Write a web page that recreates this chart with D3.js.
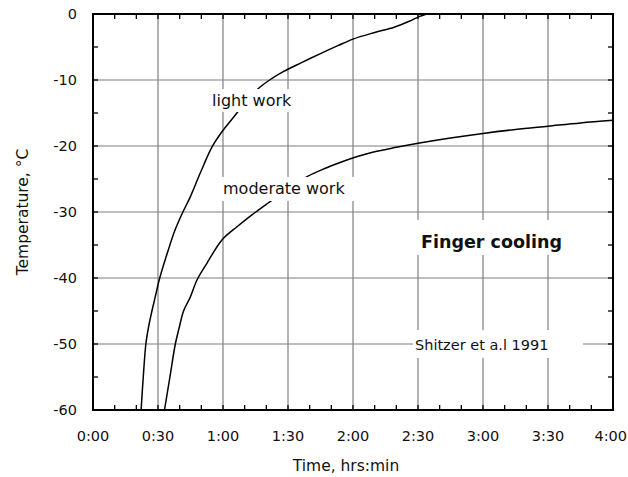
<!doctype html>
<html lang="en">
<head>
<meta charset="utf-8">
<title>Finger cooling</title>
<script src="https://d3js.org/d3.v7.min.js"></script>
<style>
  body { margin: 0; background: #fff; }
  text { font-family: "DejaVu Sans", sans-serif; fill: #111; }
  .grid line { stroke: #7f7f7f; stroke-width: 1.2; }
  .tick-lbl { font-size: 14.5px; }
  .curve { fill: none; stroke: #000; stroke-width: 1.5; }
</style>
</head>
<body>
<svg id="chart" width="628" height="477"></svg>
<script>
// ticks (minutes / degC)
const xMajor = [0, 30, 60, 90, 120, 150, 180, 210, 240];
const xMinor = [10, 20, 40, 50, 70, 80, 100, 110, 130, 140, 160, 170, 190, 200, 220, 230];
const yMajor = [0, -10, -20, -30, -40, -50, -60];
const yMinor = [-5, -15, -25, -35, -45, -55];

// light work: time (min) and temp (C)
const lightT = [22.2, 23.2, 24.4, 25.6, 27.2, 28.7, 30.8, 34.7, 37.9, 41.2, 44.9, 49.5, 55, 59.6, 65.7, 71, 77, 81.5, 88, 96, 105, 113, 120, 130, 139, 146, 150.5, 154];
const lightY = [-60, -55, -50, -47.5, -45, -42.9, -40, -35.8, -32.7, -30.2, -27.7, -24.1, -20.1, -17.8, -15.3, -13, -11.1, -10, -8.7, -7.4, -6, -4.8, -3.8, -2.8, -2.0, -1.1, -0.4, 0];

// moderate work
const modT = [33, 35.5, 38, 39.8, 41.8, 44.9, 48, 52.7, 59.6, 66.6, 73.5, 81, 87, 93, 99, 107, 114, 122, 129.5, 140, 150, 165, 180, 195, 210, 225, 240];
const modY = [-60, -55, -50, -47.5, -45, -42.9, -40.3, -37.7, -34.2, -32.2, -30.4, -28.6, -27.2, -25.9, -24.6, -23.4, -22.5, -21.6, -20.9, -20.2, -19.6, -18.8, -18.1, -17.5, -17, -16.5, -16.1];

const svg = d3.select("#chart");
const pL = 93, pR = 613, pT = 14, pB = 410;

const x = d3.scaleLinear().domain([0, 240]).range([pL, pR]);
const y = d3.scaleLinear().domain([-60, 0]).range([pB, pT]);

const fmt = m => Math.floor(m / 60) + ":" + d3.format("02")(m % 60);

// grid
const grid = svg.append("g").attr("class", "grid");
grid.selectAll(".gx").data(xMajor.slice(1, -1)).enter().append("line")
  .attr("x1", d => x(d)).attr("x2", d => x(d)).attr("y1", pT).attr("y2", pB);
grid.selectAll(".gy").data(yMajor.slice(1, -1)).enter().append("line")
  .attr("x1", pL).attr("x2", pR).attr("y1", d => y(d)).attr("y2", d => y(d));

// curves
const line = d3.line().curve(d3.curveCatmullRom.alpha(0.5));
svg.append("path").attr("class", "curve")
  .attr("d", line(lightT.map((t, i) => [x(t), y(lightY[i])])));
svg.append("path").attr("class", "curve")
  .attr("d", line(modT.map((t, i) => [x(t), y(modY[i])])));

// labels with white boxes
function label(txt, tx, ty, size, weight, box) {
  svg.append("rect").attr("x", box[0]).attr("y", box[1])
    .attr("width", box[2] - box[0]).attr("height", box[3] - box[1]).attr("fill", "#fff");
  svg.append("text").attr("x", tx).attr("y", ty)
    .style("font-size", size + "px").style("font-weight", weight).text(txt);
}
label("light work", 212, 106, 16, "normal", [208, 89, 297, 112]);
label("moderate work", 223, 194, 16, "normal", [219, 177, 358, 201]);
label("Finger cooling", 421, 248, 17.5, "bold", [415, 220, 579, 255]);
label("Shitzer et a.l 1991", 415, 350, 14.5, "normal", [413, 330, 583, 358]);

// ticks inward on all sides
const tk = svg.append("g").attr("stroke", "#000").attr("stroke-width", 1.3);
const xt = xMajor.concat(xMinor), yt = yMajor.concat(yMinor);
tk.selectAll(".tb").data(xt).enter().append("line")
  .attr("x1", d => x(d)).attr("x2", d => x(d)).attr("y1", pB).attr("y2", pB - 5);
tk.selectAll(".tt").data(xt).enter().append("line")
  .attr("x1", d => x(d)).attr("x2", d => x(d)).attr("y1", pT).attr("y2", pT + 5);
tk.selectAll(".tl").data(yt).enter().append("line")
  .attr("x1", pL).attr("x2", pL + 5).attr("y1", d => y(d)).attr("y2", d => y(d));
tk.selectAll(".tr").data(yt).enter().append("line")
  .attr("x1", pR).attr("x2", pR - 5).attr("y1", d => y(d)).attr("y2", d => y(d));

// frame
svg.append("rect").attr("x", pL).attr("y", pT)
  .attr("width", pR - pL).attr("height", pB - pT)
  .attr("fill", "none").attr("stroke", "#000").attr("stroke-width", 2);

// tick labels (last one kept inside the window)
svg.selectAll(".xl").data(xMajor).enter().append("text").attr("class", "tick-lbl")
  .attr("x", (d, i) => i === xMajor.length - 1 ? 627 : x(d))
  .attr("y", 441)
  .attr("text-anchor", (d, i) => i === xMajor.length - 1 ? "end" : "middle")
  .text(fmt);
svg.selectAll(".yl").data(yMajor).enter().append("text").attr("class", "tick-lbl")
  .attr("x", 77).attr("y", d => y(d)).attr("dy", "0.35em").attr("text-anchor", "end").text(d => d);

// axis titles
svg.append("text").attr("x", 346).attr("y", 471).attr("text-anchor", "middle")
  .style("font-size", "15.5px").text("Time, hrs:min");
svg.append("text").attr("transform", "translate(28,212) rotate(-90)").attr("text-anchor", "middle")
  .style("font-size", "15.5px").text("Temperature, °C");
</script>
</body>
</html>
